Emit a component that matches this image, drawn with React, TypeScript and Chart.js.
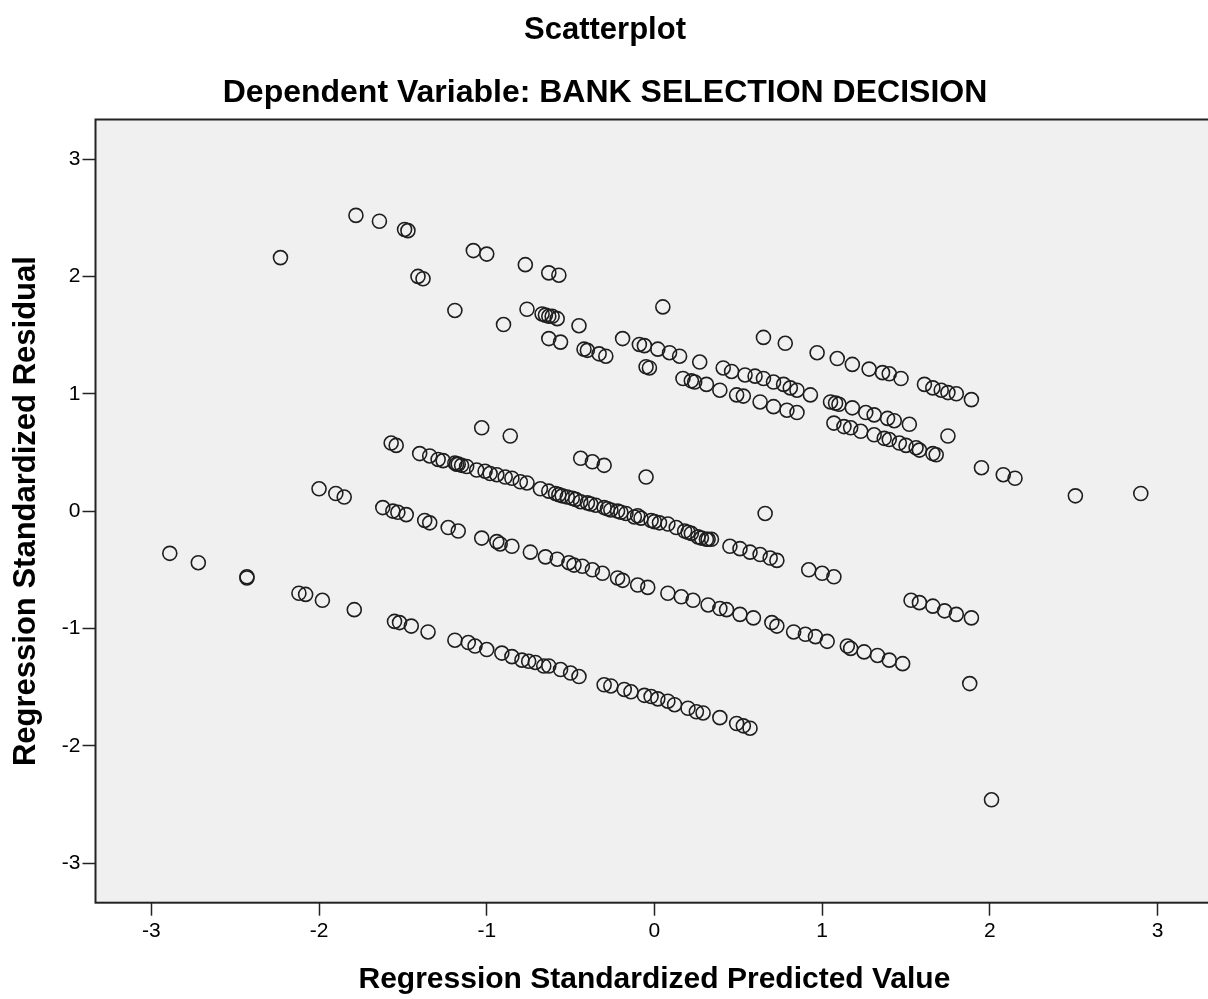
import React, { useEffect, useRef } from 'react';
import { Chart, registerables } from 'chart.js';

Chart.register(...registerables);

const chartTitle = 'Scatterplot';
const chartSubtitle = 'Dependent Variable: BANK SELECTION DECISION';
const xAxisTitle = 'Regression Standardized Predicted Value';
const yAxisTitle = 'Regression Standardized Residual';

const xTickValues = [-3, -2, -1, 0, 1, 2, 3];
const yTickValues = [-3, -2, -1, 0, 1, 2, 3];

// [standardized predicted value, standardized residual]
const upperBand: [number, number][] = [
  [-2.23, 2.16], [-1.78, 2.52], [-1.64, 2.47], [-1.49, 2.4], [-1.47, 2.39], [-1.08, 2.22], [-1.0, 2.19], [-0.77, 2.1], [-0.63, 2.03], [-0.57, 2.01],
  [-1.41, 2.0], [-1.38, 1.98], [-1.19, 1.71], [-0.9, 1.59], [-0.76, 1.72], [-0.67, 1.68], [-0.65, 1.67], [-0.63, 1.66], [-0.61, 1.66], [-0.58, 1.64],
  [-0.45, 1.58], [-0.63, 1.47], [-0.56, 1.44], [-0.42, 1.38], [-0.4, 1.37], [-0.33, 1.34], [-0.29, 1.32], [-0.19, 1.47], [0.05, 1.74], [-0.09, 1.42],
  [-0.06, 1.41], [0.02, 1.38], [0.09, 1.35], [0.15, 1.32], [-0.05, 1.23], [-0.03, 1.22], [0.27, 1.27], [0.17, 1.13], [0.22, 1.11], [0.24, 1.1],
  [0.31, 1.08], [0.39, 1.03], [0.41, 1.22], [0.46, 1.19], [0.54, 1.16], [0.6, 1.15], [0.65, 1.13], [0.71, 1.1], [0.77, 1.08], [0.81, 1.05],
  [0.85, 1.03], [0.93, 0.99], [0.49, 0.99], [0.53, 0.98], [0.63, 0.93], [0.71, 0.89], [0.79, 0.86], [0.85, 0.84], [0.65, 1.48], [0.78, 1.43],
  [0.97, 1.35], [1.09, 1.3], [1.18, 1.25], [1.28, 1.21], [1.36, 1.18], [1.4, 1.17], [1.47, 1.13], [1.61, 1.08], [1.66, 1.05], [1.71, 1.03],
  [1.75, 1.01], [1.8, 1.0], [1.89, 0.95], [1.05, 0.93], [1.08, 0.92], [1.1, 0.91], [1.18, 0.88], [1.26, 0.84], [1.31, 0.82], [1.39, 0.79],
  [1.43, 0.77], [1.52, 0.74], [1.07, 0.75], [1.13, 0.72], [1.17, 0.71], [1.23, 0.68], [1.31, 0.65], [1.37, 0.62], [1.4, 0.61], [1.46, 0.58],
  [1.5, 0.56], [1.56, 0.54], [1.58, 0.52], [1.66, 0.49], [1.68, 0.48], [1.75, 0.64], [1.95, 0.37], [2.08, 0.31], [2.15, 0.28], [2.51, 0.13],
  [2.9, 0.15],
];

const middleBand: [number, number][] = [
  [-1.03, 0.71], [-0.86, 0.64], [-0.44, 0.45], [-0.37, 0.42], [-0.3, 0.39], [-0.05, 0.29], [0.66, -0.02],
  [-1.57, 0.58], [-1.54, 0.56], [-1.4, 0.49], [-1.34, 0.47], [-1.29, 0.44], [-1.26, 0.43], [-1.19, 0.41], [-1.18, 0.4], [-1.17, 0.4],
  [-1.15, 0.39], [-1.12, 0.38], [-1.06, 0.35], [-1.01, 0.34], [-0.98, 0.32], [-0.94, 0.31], [-0.89, 0.29], [-0.85, 0.28], [-0.8, 0.25], [-0.76, 0.24],
  [-0.68, 0.19], [-0.63, 0.17], [-0.59, 0.15], [-0.57, 0.14], [-0.55, 0.13], [-0.52, 0.12], [-0.49, 0.11], [-0.47, 0.1], [-0.44, 0.08], [-0.4, 0.07],
  [-0.38, 0.06], [-0.35, 0.05], [-0.3, 0.03], [-0.28, 0.02], [-0.26, 0.01], [-0.22, 0.0], [-0.2, -0.01], [-0.17, -0.02], [-0.12, -0.05], [-0.1, -0.04],
  [-0.08, -0.06], [-0.02, -0.08], [0.0, -0.09], [0.03, -0.1], [0.08, -0.11], [0.13, -0.14], [0.18, -0.17], [0.2, -0.18], [0.22, -0.19], [0.26, -0.22],
  [0.28, -0.23], [0.31, -0.24], [0.32, -0.24], [0.34, -0.24], [0.45, -0.3], [0.51, -0.32], [0.57, -0.35], [0.63, -0.37], [0.69, -0.4], [0.73, -0.42],
  [0.92, -0.5], [1.0, -0.53], [1.07, -0.56], [1.53, -0.76], [1.58, -0.78], [1.66, -0.81], [1.73, -0.85], [1.8, -0.88], [1.89, -0.91],
];

const lowerBand: [number, number][] = [
  [-2.0, 0.19], [-1.9, 0.15], [-1.85, 0.12], [-1.62, 0.03], [-1.56, 0.0], [-1.53, -0.01], [-1.48, -0.03], [-1.37, -0.08], [-1.34, -0.1], [-1.23, -0.14],
  [-1.17, -0.17], [-1.03, -0.23], [-0.94, -0.26], [-0.92, -0.28], [-0.85, -0.3], [-0.74, -0.35], [-0.65, -0.39], [-0.58, -0.41], [-0.51, -0.44], [-0.48, -0.46],
  [-0.43, -0.47], [-0.37, -0.5], [-0.31, -0.53], [-0.22, -0.57], [-0.19, -0.59], [-0.1, -0.63], [-0.04, -0.65], [0.08, -0.7], [0.16, -0.73], [0.23, -0.76],
  [0.32, -0.8], [0.39, -0.83], [0.43, -0.84], [0.51, -0.88], [0.59, -0.91], [0.7, -0.95], [0.73, -0.98], [0.83, -1.03], [0.9, -1.05], [0.96, -1.07],
  [1.03, -1.11], [1.15, -1.15], [1.17, -1.17], [1.25, -1.2], [1.33, -1.23], [1.4, -1.27], [1.48, -1.3], [1.88, -1.47],
];

const bottomBand: [number, number][] = [
  [-2.89, -0.36], [-2.72, -0.44], [-2.43, -0.56], [-2.43, -0.57], [-2.12, -0.7], [-2.08, -0.71], [-1.98, -0.76], [-1.79, -0.84], [-1.55, -0.94], [-1.52, -0.95],
  [-1.45, -0.98], [-1.35, -1.03], [-1.19, -1.1], [-1.11, -1.12], [-1.07, -1.15], [-1.0, -1.18], [-0.91, -1.21], [-0.85, -1.24], [-0.79, -1.27], [-0.75, -1.28],
  [-0.71, -1.29], [-0.66, -1.32], [-0.63, -1.32], [-0.56, -1.35], [-0.5, -1.38], [-0.45, -1.41], [-0.3, -1.48], [-0.26, -1.49], [-0.18, -1.52], [-0.14, -1.54],
  [-0.06, -1.57], [-0.02, -1.58], [0.02, -1.6], [0.08, -1.62], [0.12, -1.65], [0.2, -1.68], [0.25, -1.71], [0.29, -1.72], [0.39, -1.76], [0.49, -1.81],
  [0.53, -1.83], [0.57, -1.85], [2.01, -2.46],
];

const FONT = "'Liberation Sans', Arial, Helvetica, sans-serif";

export default function App() {
  const canvasRef = useRef<HTMLCanvasElement | null>(null);

  useEffect(() => {
    const canvas = canvasRef.current;
    if (!canvas) return;

    const allPoints = [...upperBand, ...middleBand, ...lowerBand, ...bottomBand].map(([x, y]) => ({ x, y }));

    const framePlugin = {
      id: 'spssFrame',
      beforeDraw(chart: any) {
        const { ctx, chartArea } = chart;
        ctx.save();
        ctx.fillStyle = '#ffffff';
        ctx.fillRect(0, 0, chart.width, chart.height);
        ctx.fillStyle = '#f0f0f0';
        ctx.fillRect(chartArea.left, chartArea.top, chartArea.right - chartArea.left, chartArea.bottom - chartArea.top);
        ctx.restore();
      },
      afterDraw(chart: any) {
        const { ctx, chartArea } = chart;
        ctx.save();
        ctx.strokeStyle = '#222222';
        ctx.lineWidth = 2;
        ctx.strokeRect(chartArea.left, chartArea.top, chartArea.right - chartArea.left, chartArea.bottom - chartArea.top);
        ctx.restore();
      },
    };

    const chart = new Chart(canvas, {
      type: 'scatter',
      data: {
        datasets: [
          {
            data: allPoints,
            pointRadius: 7,
            pointHoverRadius: 7,
            pointBorderWidth: 1.6,
            pointBackgroundColor: 'rgba(0,0,0,0)',
            pointBorderColor: '#1e1e1e',
            showLine: false,
          },
        ],
      },
      options: {
        animation: false,
        responsive: false,
        devicePixelRatio: 1,
        events: [],
        layout: { padding: { left: 0, right: 4, top: 0, bottom: 0 } },
        plugins: {
          legend: { display: false },
          tooltip: { enabled: false },
          title: {
            display: true,
            text: chartTitle,
            color: '#000',
            font: { family: FONT, size: 31, weight: 'bold', lineHeight: '36px' },
            padding: { top: 12, bottom: 0 },
          },
          subtitle: {
            display: true,
            text: chartSubtitle,
            color: '#000',
            font: { family: FONT, size: 32, weight: 'bold', lineHeight: '36px' },
            padding: { top: 27, bottom: 8.5 },
          },
        },
        scales: {
          x: {
            type: 'linear',
            min: -3.333,
            max: 3.333,
            afterBuildTicks: (scale: any) => {
              scale.ticks = xTickValues.map((v) => ({ value: v }));
            },
            afterFit: (scale: any) => {
              scale.height = 96.3;
            },
            grid: { drawOnChartArea: false, drawTicks: true, tickLength: 13, tickColor: '#222', tickWidth: 1.5 },
            border: { display: false },
            ticks: {
              color: '#000',
              font: { family: FONT, size: 21 },
              padding: 3,
              maxRotation: 0,
              autoSkip: false,
              callback: (v: any) => String(v),
            },
            title: {
              display: true,
              text: xAxisTitle,
              color: '#000',
              font: { family: FONT, size: 30, weight: 'bold' },
              padding: { top: 0, bottom: 1.4 },
            },
          },
          y: {
            type: 'linear',
            min: -3.337,
            max: 3.337,
            afterBuildTicks: (scale: any) => {
              scale.ticks = yTickValues.map((v) => ({ value: v }));
            },
            afterFit: (scale: any) => {
              scale.width = 103.5;
            },
            grid: { drawOnChartArea: false, drawTicks: true, tickLength: 13, tickColor: '#222', tickWidth: 1.5 },
            border: { display: false },
            ticks: {
              color: '#000',
              font: { family: FONT, size: 21 },
              padding: 2,
              autoSkip: false,
              callback: (v: any) => String(v),
            },
            title: {
              display: true,
              text: yAxisTitle,
              color: '#000',
              font: { family: FONT, size: 31, weight: 'bold' },
              padding: { top: 15.7, bottom: 0 },
            },
          },
        },
      },
      plugins: [framePlugin],
    } as any);

    return () => {
      chart.destroy();
    };
  }, []);

  return (
    <div
      style={{
        position: 'fixed',
        left: 0,
        top: 0,
        width: 1208,
        height: 999,
        overflow: 'hidden',
        background: '#ffffff',
      }}
    >
      <canvas
        ref={canvasRef}
        width={1230}
        height={999}
        style={{ position: 'absolute', left: -8, top: 0, width: 1230, height: 999 }}
      />
    </div>
  );
}
